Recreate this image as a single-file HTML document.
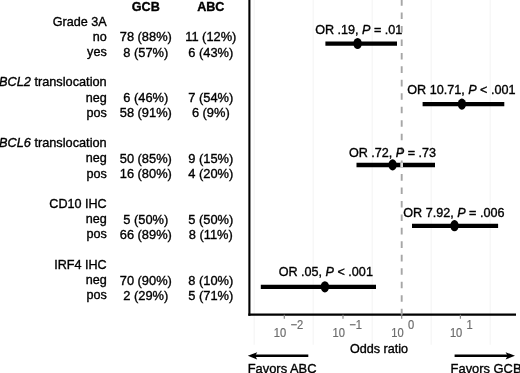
<!DOCTYPE html><html><head><meta charset="utf-8"><title>Forest plot</title>
<style>html,body{margin:0;padding:0;background:#fff;}svg{display:block;filter:blur(0.35px);}text{font-family:"Liberation Sans",sans-serif;font-size:12.6px;fill:#000;stroke:#000;stroke-width:0.35px;}</style></head><body>
<svg width="520" height="373" viewBox="0 0 520 373">
<rect width="520" height="373" fill="#fff"/>
<line x1="254.2" y1="0" x2="254.2" y2="344.65" stroke="#f7f7f7" stroke-width="1.4"/>
<line x1="313.2" y1="0" x2="313.2" y2="344.65" stroke="#f7f7f7" stroke-width="1.4"/>
<line x1="372.2" y1="0" x2="372.2" y2="344.65" stroke="#f7f7f7" stroke-width="1.4"/>
<line x1="431.2" y1="0" x2="431.2" y2="344.65" stroke="#f7f7f7" stroke-width="1.4"/>
<line x1="490.2" y1="0" x2="490.2" y2="344.65" stroke="#f7f7f7" stroke-width="1.4"/>
<line x1="249.4" y1="-4" x2="249.4" y2="315.7" stroke="#000" stroke-width="2.1"/>
<line x1="248.35" y1="314.65" x2="516" y2="314.65" stroke="#000" stroke-width="2.1"/>
<line x1="284.29999999999995" y1="314.65" x2="284.29999999999995" y2="318.84999999999997" stroke="#888" stroke-width="1.2"/>
<text transform="translate(280.0 336.8) scale(0.9 1)" style="fill:#6c6c6c;stroke:#6c6c6c;stroke-width:0.2px;font-size:12.4px" text-anchor="middle">10</text>
<text transform="translate(290.5 328.8) scale(0.9 1)" style="fill:#6c6c6c;stroke:#6c6c6c;stroke-width:0.2px;font-size:12.4px" text-anchor="start">−2</text>
<line x1="343.0" y1="314.65" x2="343.0" y2="318.84999999999997" stroke="#888" stroke-width="1.2"/>
<text transform="translate(338.7 336.8) scale(0.9 1)" style="fill:#6c6c6c;stroke:#6c6c6c;stroke-width:0.2px;font-size:12.4px" text-anchor="middle">10</text>
<text transform="translate(349.2 328.8) scale(0.9 1)" style="fill:#6c6c6c;stroke:#6c6c6c;stroke-width:0.2px;font-size:12.4px" text-anchor="start">−1</text>
<line x1="401.7" y1="314.65" x2="401.7" y2="318.84999999999997" stroke="#888" stroke-width="1.2"/>
<text transform="translate(397.4 336.8) scale(0.9 1)" style="fill:#6c6c6c;stroke:#6c6c6c;stroke-width:0.2px;font-size:12.4px" text-anchor="middle">10</text>
<text transform="translate(407.9 328.8) scale(0.9 1)" style="fill:#6c6c6c;stroke:#6c6c6c;stroke-width:0.2px;font-size:12.4px" text-anchor="start">0</text>
<line x1="460.4" y1="314.65" x2="460.4" y2="318.84999999999997" stroke="#888" stroke-width="1.2"/>
<text transform="translate(456.1 336.8) scale(0.9 1)" style="fill:#6c6c6c;stroke:#6c6c6c;stroke-width:0.2px;font-size:12.4px" text-anchor="middle">10</text>
<text transform="translate(466.6 328.8) scale(0.9 1)" style="fill:#6c6c6c;stroke:#6c6c6c;stroke-width:0.2px;font-size:12.4px" text-anchor="start">1</text>
<text x="145.8" y="10.700000000000001" text-anchor="middle" style="font-weight:bold">GCB</text>
<text x="210.8" y="10.700000000000001" text-anchor="middle" style="font-weight:bold">ABC</text>
<text x="106.7" y="25.6" text-anchor="end">Grade 3A</text>
<text x="106.7" y="40.8" text-anchor="end">no</text>
<text x="145.8" y="41.349999999999994" text-anchor="middle" style="font-size:12.85px">78 (88%)</text>
<text x="210.8" y="41.349999999999994" text-anchor="middle" style="font-size:12.85px">11 (12%)</text>
<text x="106.7" y="55.99999999999999" text-anchor="end">yes</text>
<text x="145.8" y="56.54999999999999" text-anchor="middle" style="font-size:12.85px">8 (57%)</text>
<text x="210.8" y="56.54999999999999" text-anchor="middle" style="font-size:12.85px">6 (43%)</text>
<text x="106.7" y="86.4" text-anchor="end" style="font-size:12.75px"><tspan style="font-style:italic">BCL2</tspan> translocation</text>
<text x="106.7" y="101.6" text-anchor="end">neg</text>
<text x="145.8" y="102.14999999999999" text-anchor="middle" style="font-size:12.85px">6 (46%)</text>
<text x="210.8" y="102.14999999999999" text-anchor="middle" style="font-size:12.85px">7 (54%)</text>
<text x="106.7" y="116.8" text-anchor="end">pos</text>
<text x="145.8" y="117.35" text-anchor="middle" style="font-size:12.85px">58 (91%)</text>
<text x="210.8" y="117.35" text-anchor="middle" style="font-size:12.85px">6 (9%)</text>
<text x="106.7" y="147.2" text-anchor="end" style="font-size:12.75px"><tspan style="font-style:italic">BCL6</tspan> translocation</text>
<text x="106.7" y="162.4" text-anchor="end">neg</text>
<text x="145.8" y="162.95000000000002" text-anchor="middle" style="font-size:12.85px">50 (85%)</text>
<text x="210.8" y="162.95000000000002" text-anchor="middle" style="font-size:12.85px">9 (15%)</text>
<text x="106.7" y="177.6" text-anchor="end">pos</text>
<text x="145.8" y="178.15" text-anchor="middle" style="font-size:12.85px">16 (80%)</text>
<text x="210.8" y="178.15" text-anchor="middle" style="font-size:12.85px">4 (20%)</text>
<text x="106.7" y="208.0" text-anchor="end">CD10 IHC</text>
<text x="106.7" y="223.2" text-anchor="end">neg</text>
<text x="145.8" y="223.75" text-anchor="middle" style="font-size:12.85px">5 (50%)</text>
<text x="210.8" y="223.75" text-anchor="middle" style="font-size:12.85px">5 (50%)</text>
<text x="106.7" y="238.4" text-anchor="end">pos</text>
<text x="145.8" y="238.95000000000002" text-anchor="middle" style="font-size:12.85px">66 (89%)</text>
<text x="210.8" y="238.95000000000002" text-anchor="middle" style="font-size:12.85px">8 (11%)</text>
<text x="106.7" y="268.79999999999995" text-anchor="end">IRF4 IHC</text>
<text x="106.7" y="283.99999999999994" text-anchor="end">neg</text>
<text x="145.8" y="284.54999999999995" text-anchor="middle" style="font-size:12.85px">70 (90%)</text>
<text x="210.8" y="284.54999999999995" text-anchor="middle" style="font-size:12.85px">8 (10%)</text>
<text x="106.7" y="299.2" text-anchor="end">pos</text>
<text x="145.8" y="299.75" text-anchor="middle" style="font-size:12.85px">2 (29%)</text>
<text x="210.8" y="299.75" text-anchor="middle" style="font-size:12.85px">5 (71%)</text>
<line x1="325.4" y1="43.6" x2="397" y2="43.6" stroke="#000" stroke-width="4.3"/>
<line x1="422.6" y1="104.2" x2="504.3" y2="104.2" stroke="#000" stroke-width="4.3"/>
<line x1="356.5" y1="165.0" x2="435" y2="165.0" stroke="#000" stroke-width="4.3"/>
<line x1="412" y1="225.8" x2="498.1" y2="225.8" stroke="#000" stroke-width="4.3"/>
<line x1="260.8" y1="286.9" x2="376" y2="286.9" stroke="#000" stroke-width="4.3"/>
<line x1="401.7" y1="-0.95" x2="401.7" y2="314.65" stroke="#a6a6a6" stroke-width="1.9" stroke-dasharray="6.6 6.86"/>
<rect x="400.4" y="162.8" width="2.6" height="4.4" fill="#e2e2e2"/>
<text x="358.8" y="33.9" text-anchor="middle">OR .19, <tspan style="font-style:italic">P</tspan> = .01</text>
<text x="461.4" y="93.9" text-anchor="middle">OR 10.71, <tspan style="font-style:italic">P</tspan> &lt; .001</text>
<text x="392.5" y="157.2" text-anchor="middle">OR .72, <tspan style="font-style:italic">P</tspan> = .73</text>
<text x="453.9" y="217.0" text-anchor="middle">OR 7.92, <tspan style="font-style:italic">P</tspan> = .006</text>
<text x="325.8" y="276.4" text-anchor="middle">OR .05, <tspan style="font-style:italic">P</tspan> &lt; .001</text>
<ellipse cx="357.6" cy="43.5" rx="4.2" ry="5.6" fill="#000"/>
<ellipse cx="461.90000000000003" cy="104.10000000000001" rx="4.2" ry="5.6" fill="#000"/>
<ellipse cx="392.6" cy="164.9" rx="4.2" ry="5.6" fill="#000"/>
<ellipse cx="454.5" cy="225.70000000000002" rx="4.2" ry="5.6" fill="#000"/>
<ellipse cx="324.90000000000003" cy="286.79999999999995" rx="4.2" ry="5.6" fill="#000"/>
<text x="379" y="352.8" text-anchor="middle">Odds ratio</text>
<line x1="252" y1="355.8" x2="308.3" y2="355.8" stroke="#000" stroke-width="2.4"/>
<path d="M247.8 355.8 L257.2 352.2 L255.2 355.8 L257.2 359.4 Z" fill="#000"/>
<line x1="454.6" y1="355.8" x2="511" y2="355.8" stroke="#000" stroke-width="2.4"/>
<path d="M515 355.8 L505.6 352.2 L507.6 355.8 L505.6 359.4 Z" fill="#000"/>
<text x="247.7" y="373" text-anchor="start" style="font-size:12.9px">Favors ABC</text>
<text x="450.6" y="373" text-anchor="start" style="font-size:12.9px">Favors GCB</text>
</svg></body></html>
